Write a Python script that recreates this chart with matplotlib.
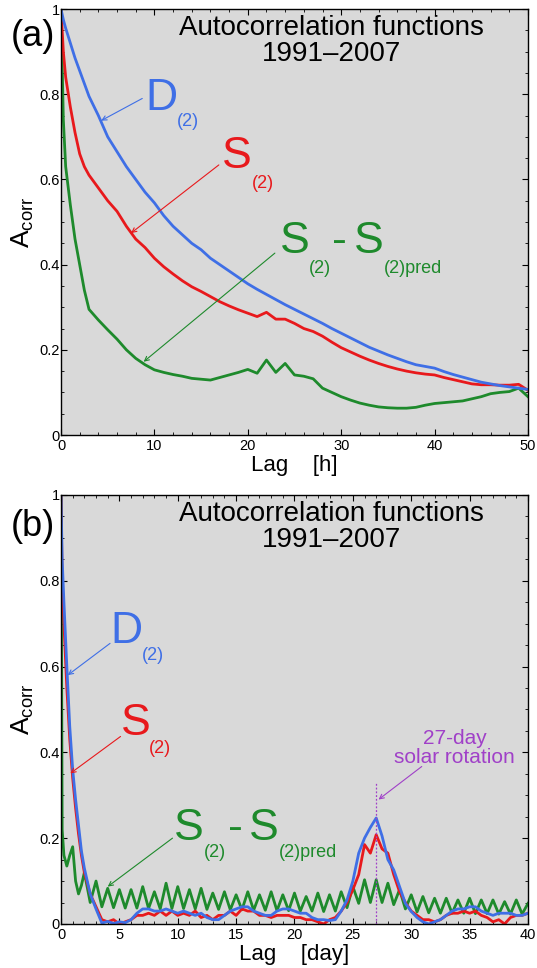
import matplotlib
matplotlib.use("Agg")
import matplotlib.pyplot as plt
from matplotlib.ticker import MultipleLocator

plt.rcParams['font.family'] = ['Liberation Sans', 'DejaVu Sans']
plt.rcParams['mathtext.fontset'] = 'custom'
plt.rcParams['mathtext.rm'] = 'Liberation Sans'
plt.rcParams['mathtext.it'] = 'Liberation Sans'

# ---------------- Panel (a): lag in hours ----------------
lag_h = [0, 0.25, 0.5, 1, 1.5, 2, 2.5, 3, 4, 5, 6, 7, 8, 9, 10, 11, 12, 13, 14, 15, 16, 17,
         18, 19, 20, 21, 22, 23, 24, 25, 26, 27, 28, 29, 30, 31, 32, 33, 34, 35, 36, 37,
         38, 39, 40, 41, 42, 43, 44, 45, 46, 47, 48, 49, 50]
d2_h = [1.0, 0.975, 0.955, 0.92, 0.885, 0.855, 0.825, 0.795, 0.75, 0.70, 0.665, 0.63, 0.60,
        0.57, 0.545, 0.515, 0.49, 0.47, 0.45, 0.435, 0.415, 0.40, 0.385, 0.37, 0.355, 0.342,
        0.33, 0.318, 0.306, 0.295, 0.284, 0.273, 0.262, 0.25, 0.239, 0.228, 0.217, 0.206,
        0.197, 0.188, 0.18, 0.172, 0.165, 0.161, 0.157, 0.149, 0.142, 0.136, 0.13, 0.124,
        0.12, 0.116, 0.113, 0.11, 0.107]
s2_h = [1.0, 0.90, 0.84, 0.77, 0.71, 0.66, 0.63, 0.61, 0.58, 0.55, 0.525, 0.49, 0.46, 0.44,
        0.415, 0.395, 0.378, 0.362, 0.348, 0.337, 0.325, 0.313, 0.303, 0.294, 0.286, 0.278,
        0.288, 0.272, 0.272, 0.262, 0.25, 0.243, 0.232, 0.218, 0.205, 0.195, 0.185, 0.176,
        0.168, 0.161, 0.155, 0.15, 0.146, 0.143, 0.141, 0.135, 0.13, 0.125, 0.12, 0.118,
        0.118, 0.117, 0.117, 0.119, 0.105]
sdiff_h = [1.0, 0.74, 0.63, 0.54, 0.46, 0.40, 0.34, 0.295, 0.27, 0.247, 0.225, 0.20, 0.18,
           0.165, 0.153, 0.147, 0.142, 0.138, 0.133, 0.131, 0.129, 0.135, 0.141, 0.147, 0.154,
           0.145, 0.176, 0.147, 0.168, 0.141, 0.138, 0.132, 0.11, 0.1, 0.09, 0.082, 0.075,
           0.07, 0.066, 0.064, 0.063, 0.063, 0.065, 0.07, 0.074, 0.076, 0.078, 0.08, 0.085,
           0.09, 0.097, 0.1, 0.102, 0.11, 0.09]

# ---------------- Panel (b): lag in days ----------------
lag_d = [0, 0.1, 0.25, 0.5, 0.75, 1.0, 1.25, 1.5, 1.75, 2.0, 2.5, 3.0, 3.5, 4.0, 4.5, 5.0, 5.5,
         6.0, 6.5, 7.0, 7.5, 8.0, 8.5, 9.0, 9.5, 10.0, 10.5, 11.0, 11.5, 12.0, 12.5, 13.0,
         13.5, 14.0, 14.5, 15.0, 15.5, 16.0, 16.5, 17.0, 17.5, 18.0, 18.5, 19.0, 19.5, 20.0,
         20.5, 21.0, 21.5, 22.0, 22.5, 23.0, 23.5, 24.0, 24.5, 25.0, 25.5, 26.0, 26.5, 27.0,
         27.5, 28.0, 28.5, 29.0, 29.5, 30.0, 30.5, 31.0, 31.5, 32.0, 32.5, 33.0, 33.5, 34.0,
         34.5, 35.0, 35.5, 36.0, 36.5, 37.0, 37.5, 38.0, 38.5, 39.0, 39.5, 40.0]
d2_d = [1.0, 0.85, 0.75, 0.60, 0.46, 0.36, 0.29, 0.23, 0.17, 0.13, 0.07, 0.035, 0.002, 0.006,
        0.001, 0.005, 0.003, 0.01, 0.025, 0.035, 0.035, 0.03, 0.03, 0.035, 0.03, 0.025, 0.03,
        0.025, 0.02, 0.025, 0.015, 0.01, 0.01, 0.02, 0.03, 0.035, 0.04, 0.04, 0.03, 0.025,
        0.02, 0.02, 0.03, 0.035, 0.035, 0.03, 0.025, 0.025, 0.015, 0.01, 0.01, 0.008, 0.01,
        0.03, 0.056, 0.10, 0.165, 0.20, 0.225, 0.247, 0.205, 0.15, 0.126, 0.087, 0.048,
        0.029, 0.015, 0.005, 0.0, 0.005, 0.01, 0.02, 0.03, 0.035, 0.035, 0.04, 0.04, 0.03,
        0.025, 0.02, 0.025, 0.025, 0.025, 0.02, 0.02, 0.025]
s2_d = [1.0, 0.80, 0.70, 0.55, 0.43, 0.34, 0.27, 0.21, 0.16, 0.12, 0.07, 0.04, 0.01, 0.005,
        0.01, 0.0, 0.005, 0.01, 0.02, 0.02, 0.025, 0.02, 0.03, 0.02, 0.03, 0.02, 0.025, 0.02,
        0.03, 0.015, 0.02, 0.01, 0.02, 0.02, 0.03, 0.02, 0.035, 0.03, 0.03, 0.02, 0.02,
        0.015, 0.02, 0.02, 0.02, 0.015, 0.015, 0.01, 0.01, 0.005, 0.0, 0.01, 0.015, 0.03,
        0.05, 0.08, 0.115, 0.185, 0.165, 0.208, 0.175, 0.165, 0.115, 0.075, 0.05, 0.03, 0.02,
        0.01, 0.01, 0.005, 0.01, 0.02, 0.025, 0.025, 0.03, 0.025, 0.03, 0.02, 0.015, 0.005,
        0.01, 0.0, 0.015, 0.02, 0.02, 0.025]
sdiff_d = [1.0, 0.22, 0.16, 0.135, 0.16, 0.18, 0.10, 0.07, 0.09, 0.12, 0.05, 0.10, 0.04, 0.083,
           0.038, 0.08, 0.037, 0.08, 0.037, 0.087, 0.036, 0.075, 0.035, 0.095, 0.036, 0.087,
           0.036, 0.08, 0.035, 0.083, 0.034, 0.072, 0.034, 0.075, 0.033, 0.068, 0.033, 0.075,
           0.032, 0.068, 0.032, 0.075, 0.031, 0.068, 0.031, 0.072, 0.03, 0.064, 0.03, 0.072,
           0.029, 0.068, 0.03, 0.075, 0.038, 0.087, 0.048, 0.103, 0.05, 0.103, 0.05, 0.095,
           0.045, 0.08, 0.035, 0.068, 0.028, 0.064, 0.026, 0.06, 0.025, 0.06, 0.025, 0.056,
           0.025, 0.06, 0.024, 0.056, 0.024, 0.056, 0.023, 0.052, 0.023, 0.056, 0.023, 0.048]

yticks = [0, 0.2, 0.4, 0.6, 0.8, 1]
ytick_labels = ['0', '0.2', '0.4', '0.6', '0.8', '1']
rotation_day = 27

BLUE = '#3f6fe6'
RED = '#e8191c'
GREEN = '#1e8a2c'
PURPLE = '#a040c8'
BG = '#d9d9d9'

fig = plt.figure(figsize=(5.37, 9.68), dpi=100)
ax_a = fig.add_axes([0.1136, 0.5506, 0.8696, 0.4401])
ax_b = fig.add_axes([0.1136, 0.0455, 0.8696, 0.4432])


def style(ax, xmax, xmajor, xminor, xlabel):
    ax.set_facecolor(BG)
    ax.set_xlim(0, xmax)
    ax.set_ylim(0, 1)
    ax.xaxis.set_major_locator(MultipleLocator(xmajor))
    ax.xaxis.set_minor_locator(MultipleLocator(xminor))
    ax.set_yticks(yticks)
    ax.set_yticklabels(ytick_labels)
    ax.yaxis.set_minor_locator(MultipleLocator(0.05))
    ax.tick_params(which='both', direction='in', top=True, right=True, labelsize=10.5)
    ax.tick_params(which='major', length=4, width=0.8)
    ax.tick_params(which='minor', length=2, width=0.6)
    ax.tick_params(axis='y', pad=1)
    ax.tick_params(axis='x', pad=3)
    for s in ax.spines.values():
        s.set_linewidth(1.0)
    ax.set_xlabel(xlabel, fontsize=16, labelpad=1)
    ax.set_ylabel(r'A$_{\mathrm{corr}}$', fontsize=19, labelpad=2)
    ax.text(0.58, 0.985, 'Autocorrelation functions\n1991\u20132007', transform=ax.transAxes,
            ha='center', va='top', fontsize=20, linespacing=1.0)


style(ax_a, 50, 10, 2, 'Lag    [h]')
style(ax_b, 40, 5, 1, 'Lag    [day]')

lw = 2.0
ax_a.plot(lag_h, sdiff_h, color=GREEN, lw=lw)
ax_a.plot(lag_h, s2_h, color=RED, lw=lw)
ax_a.plot(lag_h, d2_h, color=BLUE, lw=lw)

ax_b.plot(lag_d, sdiff_d, color=GREEN, lw=lw)
ax_b.plot(lag_d, s2_d, color=RED, lw=lw)
ax_b.plot(lag_d, d2_d, color=BLUE, lw=lw)

arr = dict(arrowstyle='->', lw=0.8, shrinkA=0, shrinkB=0, mutation_scale=8)


def label(ax, x, y, big, sub, color, subdx, subdy, big_fs=32, sub_fs=13):
    ax.text(x, y, big, color=color, fontsize=big_fs, ha='left', va='baseline')
    ax.text(x + subdx, y + subdy, sub, color=color, fontsize=sub_fs, ha='left', va='baseline')


# Panel (a) labels
label(ax_a, 9.0, 0.763, 'D', '(2)', BLUE, 3.4, -0.037)
ax_a.annotate('', xy=(4.3, 0.738), xytext=(8.7, 0.79), arrowprops=dict(arr, color=BLUE))
label(ax_a, 17.2, 0.626, 'S', '(2)', RED, 3.2, -0.046)
ax_a.annotate('', xy=(7.5, 0.474), xytext=(16.9, 0.634), arrowprops=dict(arr, color=RED))
label(ax_a, 23.4, 0.427, 'S', '(2)', GREEN, 3.1, -0.047)
ax_a.text(29.0, 0.427, '-', color=GREEN, fontsize=32, ha='left', va='baseline')
label(ax_a, 31.4, 0.427, 'S', '(2)pred', GREEN, 3.2, -0.047)
ax_a.annotate('', xy=(8.85, 0.172), xytext=(22.9, 0.427), arrowprops=dict(arr, color=GREEN))

# Panel (b) labels
label(ax_b, 4.2, 0.654, 'D', '(2)', BLUE, 2.7, -0.039)
ax_b.annotate('', xy=(0.58, 0.58), xytext=(4.2, 0.654), arrowprops=dict(arr, color=BLUE))
label(ax_b, 5.1, 0.44, 'S', '(2)', RED, 2.4, -0.042)
ax_b.annotate('', xy=(0.8, 0.351), xytext=(5.1, 0.437), arrowprops=dict(arr, color=RED))
label(ax_b, 9.7, 0.196, 'S', '(2)', GREEN, 2.5, -0.039)
ax_b.text(14.3, 0.196, '-', color=GREEN, fontsize=32, ha='left', va='baseline')
label(ax_b, 16.1, 0.196, 'S', '(2)pred', GREEN, 2.55, -0.039)
ax_b.annotate('', xy=(4.0, 0.087), xytext=(9.55, 0.2), arrowprops=dict(arr, color=GREEN))

ax_b.plot([rotation_day, rotation_day], [0, 0.33], color=PURPLE, lw=0.9, ls=(0, (1.5, 1.5)))
ax_b.text(33.7, 0.375, '27-day\nsolar rotation', color=PURPLE, fontsize=15,
          ha='center', va='baseline', linespacing=1.0)
ax_b.annotate('', xy=(27.2, 0.29), xytext=(30.9, 0.367), arrowprops=dict(arr, color=PURPLE))

fig.text(0.0605, 0.962, '(a)', fontsize=26, ha='center', va='center')
fig.text(0.0605, 0.4566, '(b)', fontsize=26, ha='center', va='center')

fig.savefig('out.png', dpi=100, facecolor='white')
